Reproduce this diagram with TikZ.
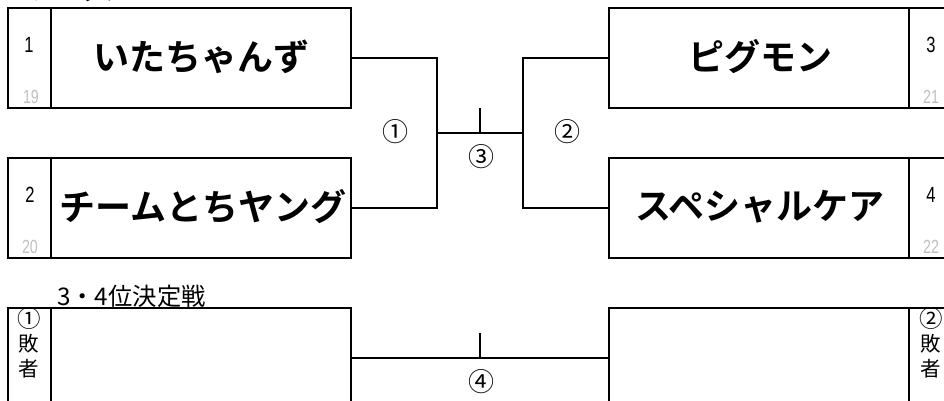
\documentclass[tikz,border=0pt]{standalone}
\usepackage{fontspec}
\setmainfont{Noto Sans CJK JP}[BoldFont={Noto Sans CJK JP Bold}]
\newfontfamily\latinfont{Liberation Sans}
\usepackage{graphicx}
\definecolor{seedgray}{gray}{0.75}
\tikzset{
  x=1pt,y=-1pt,
  teambox/.style={draw=black,line width=2pt,minimum width=300pt,minimum height=100pt,inner sep=0pt,outer sep=0pt},
  seedbox/.style={draw=black,line width=2pt,minimum width=43pt,minimum height=100pt,inner sep=0pt,outer sep=0pt},
  teamname/.style={font=\bfseries\fontsize{36}{36}\selectfont,inner sep=0pt},
  seednum/.style={font=\latinfont\fontsize{22}{22}\selectfont,inner sep=0pt},
  seedsub/.style={font=\latinfont\fontsize{19}{19}\selectfont,text=seedgray,inner sep=0pt},
  round label/.style={font=\fontsize{26}{26}\selectfont,inner sep=0pt},
  loser/.style={font=\fontsize{20.5}{20.5}\selectfont,inner sep=0pt},
  losermark/.style={font=\fontsize{23.5}{23.5}\selectfont,inner sep=0pt},
  heading/.style={font=\fontsize{24.3}{24.3}\selectfont,inner sep=0pt,anchor=base west},
  wire/.style={line width=2pt,line join=miter},
}
\newcommand{\narrow}[1]{\scalebox{0.75}[1]{#1}}
\begin{document}
\begin{tikzpicture}
\useasboundingbox (0,0) rectangle (944,401);
\clip (0,0) rectangle (944,401);
\fill[white] (0,0) rectangle (944,401);

% heading cut off by the top edge of the picture
\node[heading,font=\bfseries\fontsize{24.5}{24.5}\selectfont] (title) at (13,0) {Cブロック};

% boxes
\node[seedbox] (s1) at (29.5,58) {};
\node[teambox] (t1) at (201,58) {};
\node[seedbox] (s2) at (29.5,208) {};
\node[teambox] (t2) at (201,208) {};
\node[teambox] (t3) at (759,58) {};
\node[seedbox] (s3) at (930.5,58) {};
\node[teambox] (t4) at (759,208) {};
\node[seedbox] (s4) at (930.5,208) {};
\node[seedbox] (s5) at (29.5,358) {};
\node[teambox] (t5) at (201,358) {};
\node[teambox] (t6) at (759,358) {};
\node[seedbox] (s6) at (930.5,358) {};

% team names
\node[teamname] (n1) at (201,57) {いたちゃんず};
\node[teamname] (n2) at (203,207) {チームとちヤング};
\node[teamname] (n3) at (760,57) {ピグモン};
\node[teamname] (n4) at (760,207) {スペシャルケア};

% seed numbers
\node[seednum] (a1) at (29,45) {\narrow{1}};
\node[seedsub] (b1) at (31,97) {\narrow{19}};
\node[seednum] (a2) at (30,195) {\narrow{2}};
\node[seedsub] (b2) at (30,247) {\narrow{20}};
\node[seednum] (a3) at (931,45) {\narrow{3}};
\node[seedsub] (b3) at (931,97) {\narrow{21}};
\node[seednum] (a4) at (931,195) {\narrow{4}};
\node[seedsub] (b4) at (931,247) {\narrow{22}};

% third place
\node[heading] (h) at (57,305) {3・4位決定戦};
\node[losermark] (l1) at (29,319) {①};
\node[loser] (l2) at (29,344) {敗};
\node[loser] (l3) at (29,369) {者};
\node[losermark] (r1) at (931,319) {②};
\node[loser] (r2) at (931,344) {敗};
\node[loser] (r3) at (931,369) {者};

% junctions
\coordinate (j1) at (437,133);
\coordinate (j2) at (523,133);
\coordinate (m1) at (480,133);
\coordinate (m1top) at (480,108);
\coordinate (m2) at (480,358);
\coordinate (m2top) at (480,333);

\draw[wire] (t1.east) -| (j1) |- (t2.east);
\draw[wire] (t3.west) -| (j2) |- (t4.west);
\draw[wire] (j1) -- (j2);
\draw[wire] (m1top) -- (m1);
\draw[wire] (t5.east) -- (t6.west);
\draw[wire] (m2top) -- (m2);

% round labels
\node[round label] (c1) at (395,132) {①};
\node[round label] (c2) at (567,132) {②};
\node[round label] (c3) at (481,157) {③};
\node[round label] (c4) at (481,382) {④};
\end{tikzpicture}
\end{document}
